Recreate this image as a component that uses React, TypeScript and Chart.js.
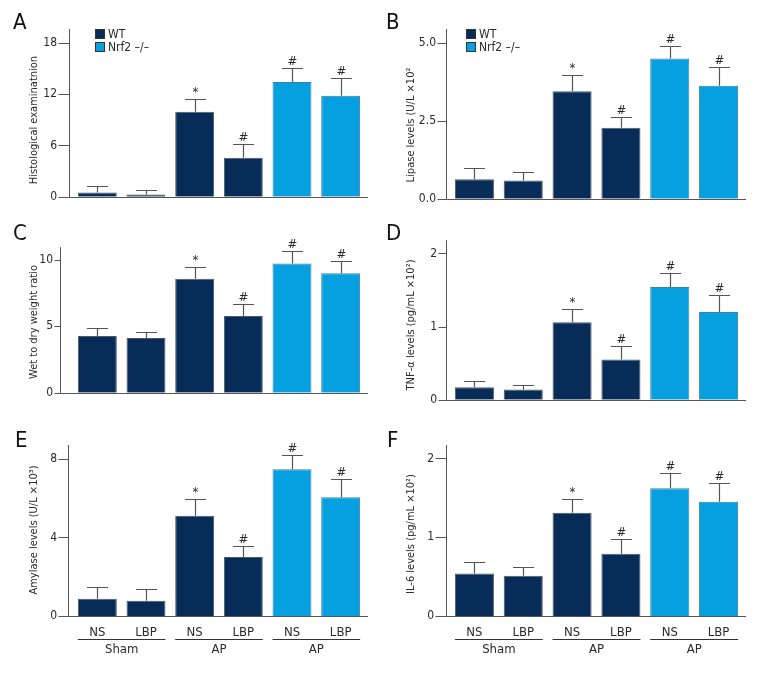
import React, { useEffect, useRef } from 'react';
import { Chart, registerables } from 'chart.js';

Chart.register(...registerables);

const FONT = "'Liberation Sans Narrow', 'Arial Narrow', 'DejaVu Sans Condensed', 'Noto Sans', sans-serif";

// ---------- data ----------
const categories = ['NS', 'LBP', 'NS', 'LBP', 'NS', 'LBP'];
const groupLabels = ['Sham', 'AP', 'AP'];
const seriesNames = ['WT', 'Nrf2 –/–'];
const seriesOfBar = [0, 0, 0, 0, 1, 1];
const significance = ['', '', '*', '#', '#', '#'];

const histologyMean = [0.5, 0.27, 9.94, 4.55, 13.4, 11.8];
const histologyErr = [0.8, 0.5, 1.53, 1.64, 1.6, 2.1];
const lipaseMean = [0.63, 0.59, 3.45, 2.28, 4.5, 3.63];
const lipaseErr = [0.37, 0.27, 0.51, 0.35, 0.42, 0.6];
const wetDryMean = [4.26, 4.11, 8.56, 5.77, 9.71, 8.98];
const wetDryErr = [0.64, 0.45, 0.89, 0.91, 0.95, 0.94];
const tnfMean = [0.17, 0.14, 1.06, 0.55, 1.54, 1.2];
const tnfErr = [0.09, 0.06, 0.18, 0.18, 0.19, 0.23];
const amylaseMean = [0.88, 0.78, 5.1, 3.0, 7.46, 6.04];
const amylaseErr = [0.58, 0.61, 0.84, 0.58, 0.71, 0.94];
const il6Mean = [0.54, 0.51, 1.31, 0.79, 1.62, 1.45];
const il6Err = [0.15, 0.11, 0.18, 0.19, 0.19, 0.24];

const ticksA = [0, 6, 12, 18];
const tickLabelsA = ['0', '6', '12', '18'];
const ticksB = [0, 2.5, 5];
const tickLabelsB = ['0.0', '2.5', '5.0'];
const ticksC = [0, 5, 10];
const tickLabelsC = ['0', '5', '10'];
const ticksD = [0, 1, 2];
const tickLabelsD = ['0', '1', '2'];
const ticksE = [0, 4, 8];
const tickLabelsE = ['0', '4', '8'];
const ticksF = [0, 1, 2];
const tickLabelsF = ['0', '1', '2'];

// ---------- styles / layout ----------
const COLORS = ['#062c57', '#06a0e0'];
const BORDERS = ['#4c5866', '#3d7fa5'];
const AXIS = '#555555';
const TEXT = '#2a2a2a';

type Spec = {
  letter: string;
  title: string;
  mean: number[];
  err: number[];
  ticks: number[];
  tickLabels: string[];
  max: number;
  left: number; top: number; w: number; h: number;
  l: number; r: number; t: number; b: number;
  axisX: number; axisEnd: number; labelPad: number; titleCx: number; titleCy: number;
  letterX: number; letterY: number;
  legend: { x: number; y: number } | null;
  xLabels: boolean;
};

const panels: Spec[] = [
  { letter: 'A', title: 'Histological examinatnion', mean: histologyMean, err: histologyErr, ticks: ticksA, tickLabels: tickLabelsA, max: 19.6,
    left: 0, top: 0, w: 384, h: 220, l: 73, r: 365, t: 29, b: 200, axisX: 69, axisEnd: 368, labelPad: 16, titleCx: 34, titleCy: 120,
    letterX: 13, letterY: 23, legend: { x: 95, y: 29 }, xLabels: false },
  { letter: 'B', title: 'Lipase levels (U/L ×10²', mean: lipaseMean, err: lipaseErr, ticks: ticksB, tickLabels: tickLabelsB, max: 5.45,
    left: 384, top: 0, w: 384, h: 220, l: 66, r: 359, t: 29, b: 201, axisX: 62, axisEnd: 362, labelPad: 14, titleCx: 27, titleCy: 125,
    letterX: 2, letterY: 23, legend: { x: 82, y: 29 }, xLabels: false },
  { letter: 'C', title: 'Wet to dry weight ratio', mean: wetDryMean, err: wetDryErr, ticks: ticksC, tickLabels: tickLabelsC, max: 10.93,
    left: 0, top: 220, w: 384, h: 200, l: 73, r: 365, t: 17, b: 189, axisX: 60, axisEnd: 368, labelPad: 20, titleCx: 34, titleCy: 102,
    letterX: 13, letterY: 14, legend: null, xLabels: false },
  { letter: 'D', title: 'TNF-α levels (pg/mL ×10²)', mean: tnfMean, err: tnfErr, ticks: ticksD, tickLabels: tickLabelsD, max: 2.18,
    left: 384, top: 220, w: 384, h: 200, l: 66, r: 359, t: 17, b: 189, axisX: 62, axisEnd: 362, labelPad: 13, titleCx: 27, titleCy: 105,
    letterX: 2, letterY: 14, legend: null, xLabels: false },
  { letter: 'E', title: 'Amylase levels (U/L ×10³)', mean: amylaseMean, err: amylaseErr, ticks: ticksE, tickLabels: tickLabelsE, max: 8.7,
    left: 0, top: 420, w: 384, h: 264, l: 73, r: 365, t: 25, b: 196, axisX: 68, axisEnd: 368, labelPad: 16, titleCx: 34, titleCy: 110,
    letterX: 15, letterY: 21, legend: null, xLabels: true },
  { letter: 'F', title: 'IL-6 levels (pg/mL ×10²)', mean: il6Mean, err: il6Err, ticks: ticksF, tickLabels: tickLabelsF, max: 2.17,
    left: 384, top: 420, w: 384, h: 264, l: 66, r: 359, t: 25, b: 196, axisX: 62, axisEnd: 362, labelPad: 16, titleCx: 27, titleCy: 114,
    letterX: 3, letterY: 21, legend: null, xLabels: true },
];

function makeDecor(spec: Spec) {
  return {
    id: 'decor',
    afterDatasetsDraw(chart: any) {
      const ctx = chart.ctx;
      const y = chart.scales.y;
      ctx.save();
      chart.data.datasets.forEach((ds: any, di: number) => {
        const meta = chart.getDatasetMeta(di);
        meta.data.forEach((bar: any, i: number) => {
          const v = ds.data[i];
          if (v == null) return;
          const e = ds.errors[i];
          const { x, width } = bar.getProps(['x', 'width'], true);
          const yv = y.getPixelForValue(v);
          const ye = Math.round(y.getPixelForValue(v + e)) + 0.5;
          const cx = Math.round(x) + 0.5;
          ctx.strokeStyle = AXIS;
          ctx.lineWidth = 1.2;
          ctx.beginPath();
          ctx.moveTo(cx, yv);
          ctx.lineTo(cx, ye);
          ctx.moveTo(cx - width * 0.27, ye);
          ctx.lineTo(cx + width * 0.27, ye);
          ctx.stroke();
          const m = significance[i];
          if (m) {
            ctx.fillStyle = TEXT;
            ctx.font = `13px ${FONT}`;
            ctx.textAlign = 'center';
            ctx.textBaseline = 'alphabetic';
            ctx.fillText(m, cx, ye - 4);
          }
        });
      });
      ctx.restore();
    },
    afterDraw(chart: any) {
      const ctx = chart.ctx;
      const ca = chart.chartArea;
      const y = chart.scales.y;
      ctx.save();
      // axes
      const ax = spec.axisX + 0.5;
      const by = Math.round(ca.bottom) + 0.5;
      const tickLen = Math.max(6, spec.axisX - (spec.l - spec.labelPad) - 1);
      ctx.strokeStyle = AXIS;
      ctx.lineWidth = 1;
      ctx.beginPath();
      ctx.moveTo(ax, ca.top);
      ctx.lineTo(ax, by);
      ctx.lineTo(spec.axisEnd, by);
      y.ticks.forEach((t: any) => {
        const py = Math.round(y.getPixelForValue(t.value)) + 0.5;
        ctx.moveTo(ax - tickLen, py);
        ctx.lineTo(ax, py);
      });
      ctx.stroke();

      // y-axis title
      ctx.fillStyle = TEXT;
      ctx.font = `11px ${FONT}`;
      ctx.textAlign = 'center';
      ctx.textBaseline = 'middle';
      ctx.translate(spec.titleCx, spec.titleCy);
      ctx.rotate(-Math.PI / 2);
      ctx.fillText(spec.title, 0, 0);
      ctx.setTransform(1, 0, 0, 1, 0, 0);

      // panel letter
      ctx.fillStyle = '#111';
      ctx.font = `22px ${FONT}`;
      ctx.textAlign = 'left';
      ctx.textBaseline = 'middle';
      ctx.fillText(spec.letter, spec.letterX, spec.letterY);

      // legend
      if (spec.legend) {
        chart.data.datasets.forEach((ds: any, di: number) => {
          const lx = spec.legend!.x;
          const ly = spec.legend!.y + di * 13;
          ctx.fillStyle = ds.backgroundColor;
          ctx.fillRect(lx, ly, 10, 10);
          ctx.strokeStyle = '#333';
          ctx.lineWidth = 1;
          ctx.strokeRect(lx + 0.5, ly + 0.5, 9, 9);
          ctx.fillStyle = TEXT;
          ctx.font = `12px ${FONT}`;
          ctx.textBaseline = 'middle';
          ctx.fillText(ds.label, lx + 13, ly + 5.5);
        });
      }

      // grouping lines under x labels
      if (spec.xLabels) {
        const metas = chart.data.datasets.map((_: any, di: number) => chart.getDatasetMeta(di));
        const barAt = (i: number) => {
          const s = seriesOfBar[i];
          return metas[s].data[i].getProps(['x', 'width'], true);
        };
        groupLabels.forEach((g, gi) => {
          const b0 = barAt(gi * 2);
          const b1 = barAt(gi * 2 + 1);
          const x0 = b0.x - b0.width / 2;
          const x1 = b1.x + b1.width / 2;
          const ly = Math.round(ca.bottom + 23) + 0.5;
          ctx.strokeStyle = '#333';
          ctx.lineWidth = 1;
          ctx.beginPath();
          ctx.moveTo(x0, ly);
          ctx.lineTo(x1, ly);
          ctx.stroke();
          ctx.fillStyle = TEXT;
          ctx.font = `13px ${FONT}`;
          ctx.textAlign = 'center';
          ctx.textBaseline = 'middle';
          ctx.fillText(g, (x0 + x1) / 2, ca.bottom + 34);
        });
      }
      ctx.restore();
    },
  };
}

function Panel({ spec }: { spec: Spec }) {
  const ref = useRef<HTMLCanvasElement>(null);
  useEffect(() => {
    const canvas = ref.current!;
    const datasets = seriesNames.map((name, s) => ({
      label: name,
      data: spec.mean.map((v, i) => (seriesOfBar[i] === s ? v : null)),
      errors: spec.err,
      backgroundColor: COLORS[s],
      borderColor: BORDERS[s],
      borderWidth: 1,
      categoryPercentage: 1,
      barPercentage: 0.8,
      skipNull: true,
    }));
    const chart = new Chart(canvas, {
      type: 'bar',
      data: { labels: categories, datasets: datasets as any },
      options: {
        responsive: false,
        animation: false,
        layout: { padding: { left: 0, top: spec.t, right: spec.w - spec.r, bottom: 0 } },
        plugins: { legend: { display: false }, tooltip: { enabled: false } },
        scales: {
          x: {
            grid: { display: false, drawTicks: false },
            border: { display: false },
            ticks: {
              display: spec.xLabels,
              color: TEXT,
              padding: 9,
              font: { family: FONT, size: 13 },
              maxRotation: 0,
              autoSkip: false,
            },
            afterFit: (scale: any) => { scale.height = spec.h - spec.b; },
          },
          y: {
            min: 0,
            max: spec.max,
            grid: { display: false, drawTicks: false },
            border: { display: false },
            afterBuildTicks: (scale: any) => { scale.ticks = spec.ticks.map((v) => ({ value: v })); },
            ticks: {
              color: TEXT,
              padding: spec.labelPad,
              font: { family: FONT, size: 12 },
              callback: (_v: any, idx: number) => spec.tickLabels[idx],
            },
            title: { display: false, text: spec.title },
            afterFit: (scale: any) => { scale.width = spec.l; },
          },
        },
      },
      plugins: [makeDecor(spec)],
    });
    return () => chart.destroy();
  }, []);
  return (
    <canvas
      ref={ref}
      width={spec.w}
      height={spec.h}
      style={{ position: 'absolute', left: spec.left, top: spec.top, width: spec.w, height: spec.h }}
    />
  );
}

export default function App() {
  return (
    <div style={{ position: 'absolute', left: 0, top: 0, width: 768, height: 684, background: '#fff', overflow: 'hidden' }}>
      {panels.map((p) => (
        <Panel key={p.letter} spec={p} />
      ))}
    </div>
  );
}
